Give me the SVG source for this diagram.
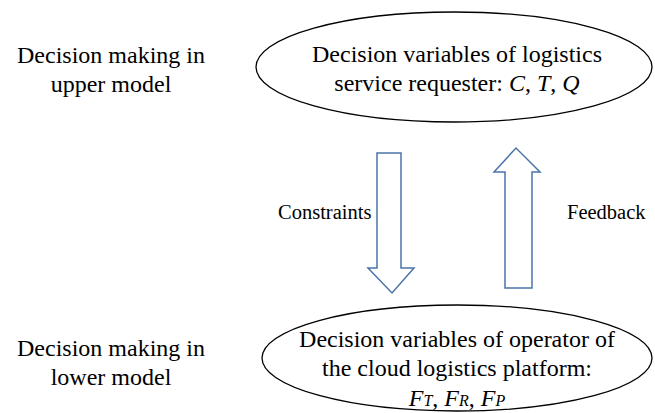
<svg xmlns="http://www.w3.org/2000/svg" width="655" height="413" viewBox="0 0 655 413">
<style>
text{font-family:"Liberation Serif","Times New Roman",serif;fill:#000}
.m{font-size:24px}
.l{font-size:20.5px}
.e{fill:none;stroke:#000;stroke-width:1.3}
.a{fill:#fff;stroke:#4a74a8;stroke-width:1.5;stroke-linejoin:miter}
.i{font-style:italic}
.s{font-style:italic;font-size:16px}
</style>
<g id="upper-label">
<text class="m" x="111" y="63" text-anchor="middle">Decision making in</text>
<text class="m" x="111" y="92" text-anchor="middle">upper model</text>
</g>
<g id="lower-label">
<text class="m" x="111" y="356" text-anchor="middle">Decision making in</text>
<text class="m" x="111" y="385" text-anchor="middle">lower model</text>
</g>
<g id="upper-node">
<ellipse class="e" cx="454" cy="67" rx="198" ry="55"/>
<text class="m" x="457" y="62" text-anchor="middle">Decision variables of logistics</text>
<text class="m" x="457" y="91" text-anchor="middle">service requester: <tspan class="i">C</tspan>, <tspan class="i">T</tspan>, <tspan class="i">Q</tspan></text>
</g>
<g id="lower-node">
<ellipse class="e" cx="457" cy="358" rx="195" ry="53"/>
<text class="m" x="457" y="347" text-anchor="middle">Decision variables of operator of</text>
<text class="m" x="457" y="376" text-anchor="middle">the cloud logistics platform:</text>
<text class="m" x="457" y="406" text-anchor="middle"><tspan class="i">F</tspan><tspan class="s">T</tspan>, <tspan class="i">F</tspan><tspan class="s">R</tspan>, <tspan class="i">F</tspan><tspan class="s">P</tspan></text>
</g>
<g id="connectors">
<polygon id="constraints-arrow" class="a" points="377,153 401,153 401,268 414,268 392,293 368,268 377,268"/>
<polygon id="feedback-arrow" class="a" points="505,288 532,288 532,172 540,172 516,148 494,172 505,172"/>
<text class="l" x="278" y="219">Constraints</text>
<text class="l" x="567" y="219">Feedback</text>
</g>
</svg>
